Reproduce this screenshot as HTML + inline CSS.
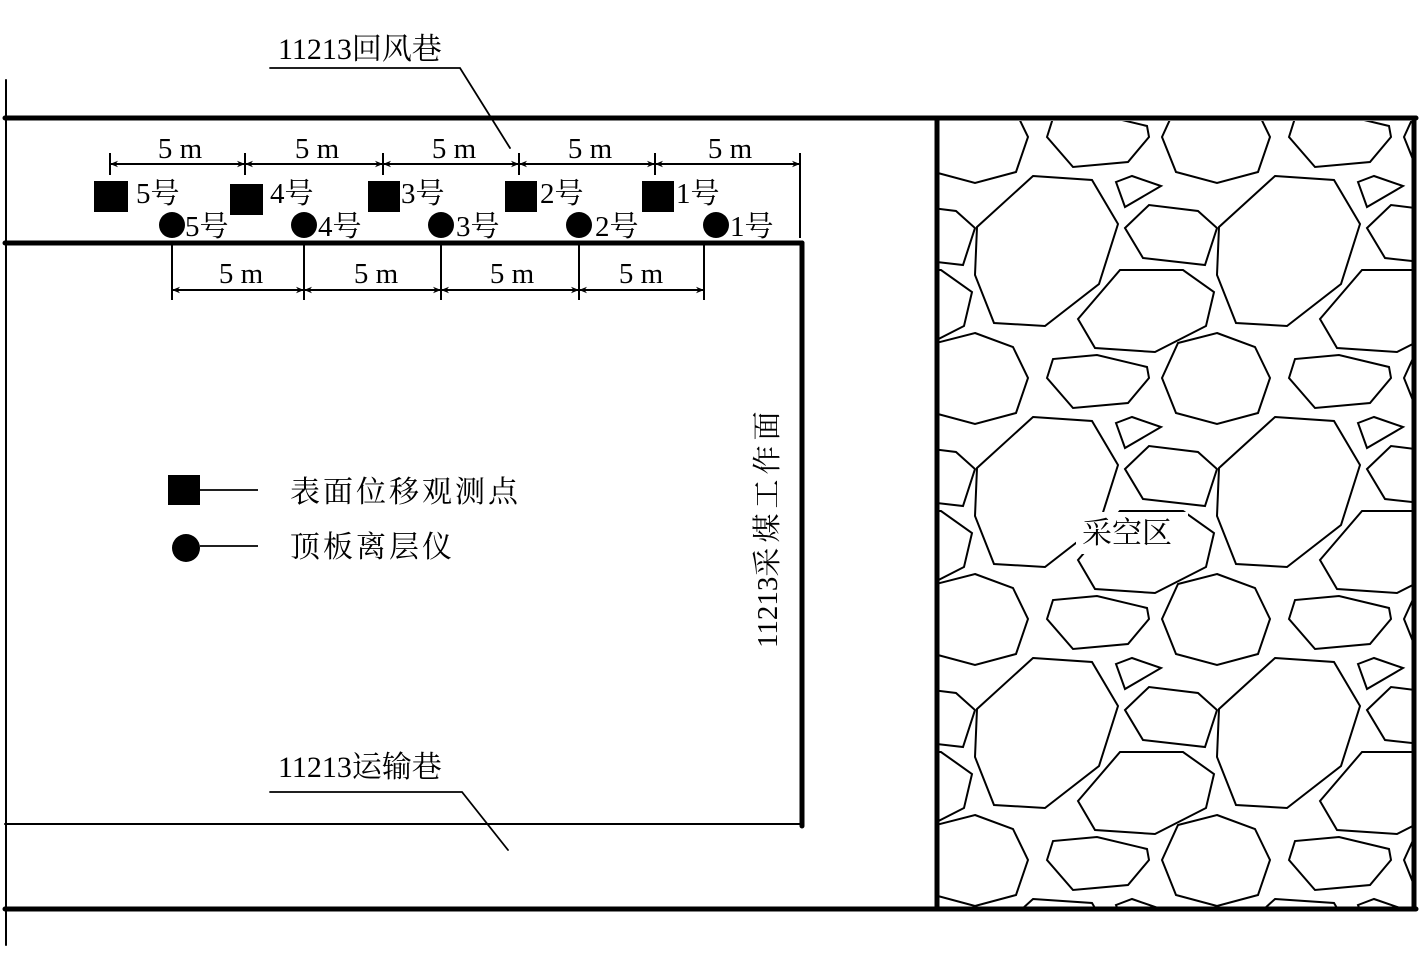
<!DOCTYPE html>
<html><head><meta charset="utf-8"><style>
html,body{margin:0;padding:0;background:#fff;width:1420px;height:972px;overflow:hidden;}
svg{display:block;}
text{font-family:"Liberation Serif","Noto Serif CJK SC",serif;fill:#000;}
</style></head><body>
<svg width="1420" height="972" viewBox="0 0 1420 972" xmlns="http://www.w3.org/2000/svg">
<defs>
<g id="tile" fill="none" stroke="#000" stroke-width="2">
<polygon points="1033,176 1092,180 1118,224 1099,284 1045,326 994,323 975,275 977,227"/>
<polygon points="1217,333 1255,347 1270,378 1258,413 1217,424 1176,413 1162,378 1178,343"/>
<polygon points="1047,378 1053,359 1097,355 1147,367 1149,378 1128,403 1073,408"/>
<polygon points="1116,182 1132,176 1161,186 1125,207"/>
<polygon points="1125,228 1149,205 1198,211 1217,228 1205,265 1143,258"/>
<polygon points="1078,319 1120,270 1183,270 1214,292 1206,326 1155,352 1095,348"/>
</g>
<clipPath id="gob"><rect x="939" y="121" width="473" height="786"/></clipPath>
<marker id="ar" viewBox="0 0 10 10" refX="10" refY="5" markerWidth="11" markerHeight="8" orient="auto-start-reverse" markerUnits="userSpaceOnUse"><path d="M0,1 L10,5 L0,9 L3,5 z" fill="#000"/></marker>
</defs>
<g clip-path="url(#gob)">
<use href="#tile" transform="translate(-484,-482)"/><use href="#tile" transform="translate(-242,-482)"/><use href="#tile" transform="translate(0,-482)"/><use href="#tile" transform="translate(242,-482)"/>
<use href="#tile" transform="translate(-484,-241)"/><use href="#tile" transform="translate(-242,-241)"/><use href="#tile" transform="translate(0,-241)"/><use href="#tile" transform="translate(242,-241)"/>
<use href="#tile" transform="translate(-484,0)"/><use href="#tile" transform="translate(-242,0)"/><use href="#tile" transform="translate(0,0)"/><use href="#tile" transform="translate(242,0)"/>
<use href="#tile" transform="translate(-484,241)"/><use href="#tile" transform="translate(-242,241)"/><use href="#tile" transform="translate(0,241)"/><use href="#tile" transform="translate(242,241)"/>
<use href="#tile" transform="translate(-484,482)"/><use href="#tile" transform="translate(-242,482)"/><use href="#tile" transform="translate(0,482)"/><use href="#tile" transform="translate(242,482)"/>
<use href="#tile" transform="translate(-484,723)"/><use href="#tile" transform="translate(-242,723)"/><use href="#tile" transform="translate(0,723)"/><use href="#tile" transform="translate(242,723)"/>
</g>
<rect x="1076" y="512" width="112" height="42" fill="#fff"/>
<text x="1082" y="543" font-size="30">采空区</text>

<g stroke="#000" fill="none" stroke-linecap="round">
<line x1="6" y1="80" x2="6" y2="945" stroke-width="2"/>
<line x1="5" y1="118" x2="1416" y2="118" stroke-width="5"/>
<line x1="5" y1="909" x2="1416" y2="909" stroke-width="5"/>
<line x1="937" y1="118" x2="937" y2="909" stroke-width="5"/>
<line x1="1414" y1="118" x2="1414" y2="909" stroke-width="5"/>
<line x1="5" y1="243" x2="802" y2="243" stroke-width="5"/>
<line x1="802" y1="243" x2="802" y2="826" stroke-width="5"/>
<line x1="5" y1="824" x2="802" y2="824" stroke-width="2"/>
<polyline points="270,68 460,68 510,148" stroke-width="1.8"/>
<polyline points="270,792 462,792 508,850" stroke-width="1.8"/>
</g>
<text x="278" y="59" font-size="30">11213回风巷</text>
<text x="278" y="777" font-size="30">11213运输巷</text>

<g stroke="#000" stroke-width="2">
<line x1="110" y1="153" x2="110" y2="175"/>
<line x1="245" y1="153" x2="245" y2="175"/>
<line x1="383" y1="153" x2="383" y2="175"/>
<line x1="519" y1="153" x2="519" y2="175"/>
<line x1="655" y1="153" x2="655" y2="175"/>
<line x1="800" y1="153" x2="800" y2="238"/>
<line x1="110" y1="164" x2="245" y2="164" marker-start="url(#ar)" marker-end="url(#ar)"/>
<line x1="245" y1="164" x2="383" y2="164" marker-start="url(#ar)" marker-end="url(#ar)"/>
<line x1="383" y1="164" x2="519" y2="164" marker-start="url(#ar)" marker-end="url(#ar)"/>
<line x1="519" y1="164" x2="655" y2="164" marker-start="url(#ar)" marker-end="url(#ar)"/>
<line x1="655" y1="164" x2="800" y2="164" marker-start="url(#ar)" marker-end="url(#ar)"/>
<line x1="172" y1="243" x2="172" y2="300"/>
<line x1="304" y1="243" x2="304" y2="300"/>
<line x1="441" y1="243" x2="441" y2="300"/>
<line x1="579" y1="243" x2="579" y2="300"/>
<line x1="704" y1="243" x2="704" y2="300"/>
<line x1="172" y1="290" x2="304" y2="290" marker-start="url(#ar)" marker-end="url(#ar)"/>
<line x1="304" y1="290" x2="441" y2="290" marker-start="url(#ar)" marker-end="url(#ar)"/>
<line x1="441" y1="290" x2="579" y2="290" marker-start="url(#ar)" marker-end="url(#ar)"/>
<line x1="579" y1="290" x2="704" y2="290" marker-start="url(#ar)" marker-end="url(#ar)"/>
</g>
<g font-size="29" text-anchor="middle">
<text x="180" y="158">5 m</text><text x="317" y="158">5 m</text><text x="454" y="158">5 m</text><text x="590" y="158">5 m</text><text x="730" y="158">5 m</text>
<text x="241" y="283">5 m</text><text x="376" y="283">5 m</text><text x="512" y="283">5 m</text><text x="641" y="283">5 m</text>
</g>
<g fill="#000">
<rect x="94" y="181" width="34" height="31"/>
<rect x="230" y="184" width="33" height="31"/>
<rect x="368" y="181" width="32" height="31"/>
<rect x="505" y="181" width="32" height="31"/>
<rect x="642" y="181" width="32" height="31"/>
<circle cx="172" cy="225" r="13"/>
<circle cx="304" cy="225" r="13"/>
<circle cx="441" cy="225" r="13"/>
<circle cx="579" cy="225" r="13"/>
<circle cx="716" cy="225" r="13"/>
</g>
<g font-size="29">
<text x="136" y="203">5号</text><text x="270" y="203">4号</text><text x="401" y="203">3号</text><text x="540" y="203">2号</text><text x="676" y="203">1号</text>
<text x="185" y="236">5号</text><text x="318" y="236">4号</text><text x="456" y="236">3号</text><text x="595" y="236">2号</text><text x="730" y="236">1号</text>
</g>
<rect x="168" y="475" width="32" height="30" fill="#000"/>
<line x1="200" y1="490" x2="258" y2="490" stroke="#000" stroke-width="1.8"/>
<text x="290" y="502" font-size="30" letter-spacing="3">表面位移观测点</text>
<circle cx="186" cy="548" r="14" fill="#000"/>
<line x1="200" y1="546" x2="258" y2="546" stroke="#000" stroke-width="1.8"/>
<text x="290" y="557" font-size="30" letter-spacing="3">顶板离层仪</text>
<text transform="translate(777,648) rotate(-90)" font-size="29"><tspan>11213</tspan><tspan letter-spacing="5">采煤工作面</tspan></text>
</svg>
</body></html>
